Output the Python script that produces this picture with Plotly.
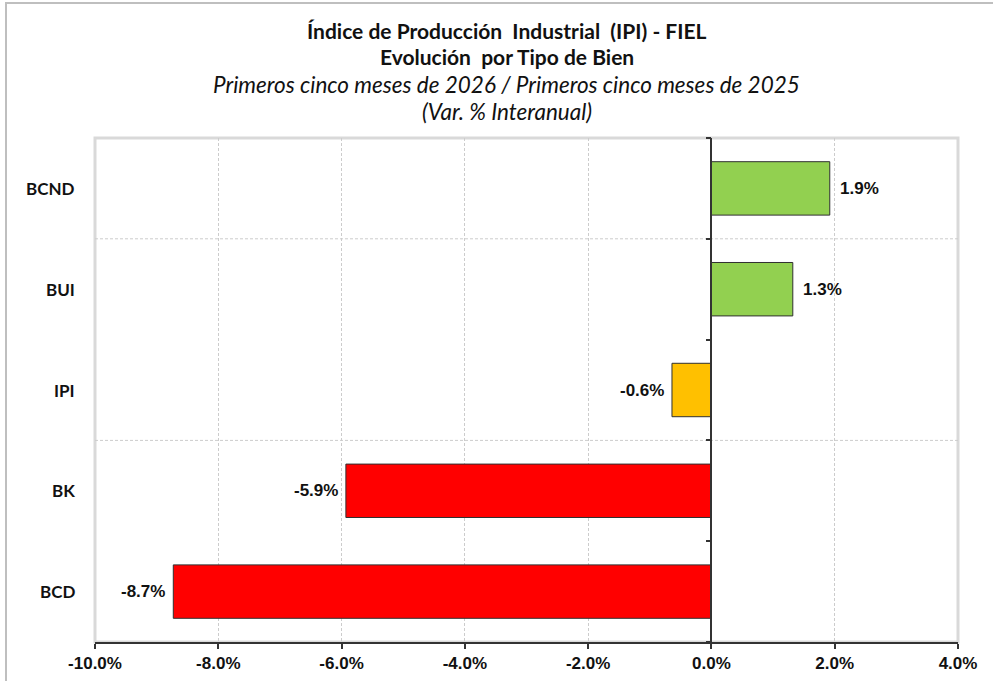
import plotly.graph_objects as go

# ---- data ----
categories = ["BCD", "BK", "IPI", "BUI", "BCND"]          # bottom -> top
values = [-8.73, -5.93, -0.64, 1.32, 1.92]
bar_colors = ["#FF0000", "#FF0000", "#FFC000", "#92D050", "#92D050"]
x_ticks = [-10, -8, -6, -4, -2, 0, 2, 4]
x_tick_labels = ["-10.0%", "-8.0%", "-6.0%", "-4.0%", "-2.0%", "0.0%", "2.0%", "4.0%"]
title_lines = [
    "<b>Índice de Producción  Industrial  (IPI) - FIEL</b>",
    "<b>Evolución  por Tipo de Bien</b>",
    "<i>Primeros cinco meses de 2026 / Primeros cinco meses de 2025</i>",
    "<i>(Var. % Interanual)</i>",
]

W, H = 993, 681
L, R, T, B = 95, 35, 138, 39
PW, PH = W - L - R, H - T - B
XMIN, XMAX = -10, 4

def px_x(p):
    return (p - L) / PW

def px_y(p):
    return (H - B - p) / PH

ypos = list(range(len(categories)))

fig = go.Figure()
fig.add_trace(go.Bar(
    x=values, y=ypos, orientation="h", width=0.53,
    marker=dict(color=bar_colors, line=dict(color="#303030", width=1)),
    hoverinfo="skip",
))

anns = []
# value labels
for v, yv in zip(values, ypos):
    anns.append(dict(
        x=v, y=yv, xref="x", yref="y",
        text=f"<b>{v:.1f}%</b>", showarrow=False,
        xanchor="left" if v >= 0 else "right",
        xshift=8 if v >= 0 else -6,
        font=dict(family="Liberation Sans, Arial", size=17, color="#111111"),
    ))
# category labels
for c, yv in zip(categories, ypos):
    anns.append(dict(
        x=px_x(77), y=yv, xref="paper", yref="y",
        text=f"<b>{c}</b>", showarrow=False, xanchor="right",
        font=dict(family="Lato, Calibri, sans-serif", size=17, color="#111111"),
    ))
# titles
title_y = [30, 57, 85, 112]
title_sizes = [21, 21, 22.5, 22.5]
for txt, ty, sz in zip(title_lines, title_y, title_sizes):
    anns.append(dict(
        x=px_x(W / 2 + 10), y=px_y(ty), xref="paper", yref="paper",
        text=txt, showarrow=False, xanchor="center", yanchor="middle",
        font=dict(family="Lato, Calibri, sans-serif", size=sz, color="#111111"),
    ))

shapes = [
    # plot-area border
    dict(type="rect", xref="paper", yref="paper", x0=0, x1=1, y0=0, y1=1,
         line=dict(color="#D9D9D9", width=3), layer="below"),
    # outer chart border (top & left)
    dict(type="rect", xref="paper", yref="paper",
         x0=px_x(6), x1=px_x(W + 10), y0=px_y(H + 10), y1=px_y(3),
         line=dict(color="#BFBFBF", width=2), layer="below"),
]
# horizontal dashed gridlines every two categories
for g in [1.5, 3.5]:
    shapes.append(dict(type="line", xref="paper", yref="y", x0=0, x1=1, y0=g, y1=g,
                       line=dict(color="#CCCCCC", width=1, dash="3px,2px"), layer="below"))

fig.update_layout(
    width=W, height=H,
    margin=dict(l=L, r=R, t=T, b=B, autoexpand=False),
    paper_bgcolor="white", plot_bgcolor="white",
    showlegend=False,
    annotations=anns, shapes=shapes,
    xaxis=dict(
        range=[XMIN, XMAX], tickvals=x_ticks, ticktext=x_tick_labels,
        showgrid=True, gridcolor="#CCCCCC", griddash="3px,2px", gridwidth=1,
        showline=True, linecolor="#333333", linewidth=1.5,
        ticks="outside", ticklen=5, tickcolor="#333333", tickwidth=1.5,
        tickfont=dict(family="Liberation Sans, Arial", size=17, color="#111111", weight="bold"),
        zeroline=False, fixedrange=True,
    ),
    yaxis=dict(
        range=[-0.5, len(categories) - 0.5],
        tickvals=[i - 0.5 for i in range(len(categories) + 1)],
        showticklabels=False, showgrid=False, zeroline=False,
        showline=True, linecolor="#333333", linewidth=1.5,
        ticks="outside", ticklen=5, tickcolor="#333333", tickwidth=1.5,
        anchor="free", position=(0 - XMIN) / (XMAX - XMIN),
        fixedrange=True,
    ),
)

fig.write_html("out.html")
